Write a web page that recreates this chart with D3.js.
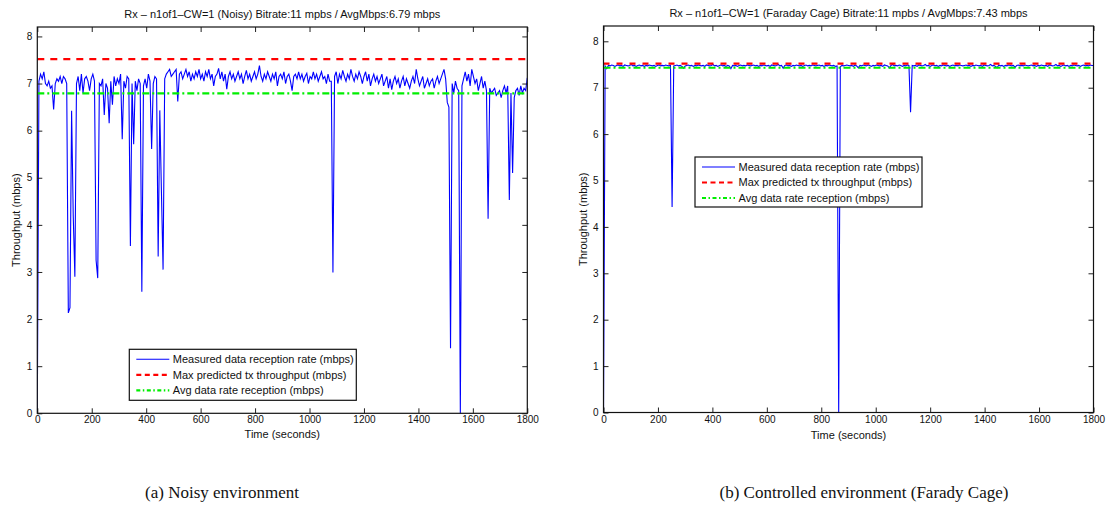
<!DOCTYPE html>
<html><head><meta charset="utf-8">
<script src="https://cdn.jsdelivr.net/npm/d3@7"></script>
<style>
body{margin:0;background:#fff}
svg{display:block}
text{font-family:"Liberation Sans",Arial,Helvetica,sans-serif;fill:#111}
.cap{font-family:"Liberation Serif","Times New Roman",serif}
</style>
</head><body>
<svg id="c" width="1111" height="512"></svg>
<script>
// ---------- DATA ----------
const sampleStep = 6; // seconds between samples
const noisyThroughput = [
  0, 7.05, 7.2, 7.1, 7.25, 7.0, 6.95, 7.05, 6.9, 6.95,
  6.45, 7.0, 7.1, 7.05, 7.15, 7.0, 7.15, 7.1, 7.0, 2.13,
  2.24, 6.42, 4.2, 2.9, 7.0, 7.15, 6.85, 7.2, 6.8, 7.1,
  7.15, 7.05, 6.85, 7.1, 7.2, 7.05, 3.25, 2.87, 7.0, 6.95,
  7.1, 6.33, 7.0, 6.9, 6.16, 7.05, 6.55, 7.15, 6.95, 7.1,
  7.0, 7.2, 5.82, 7.05, 6.9, 7.15, 7.1, 3.55, 7.0, 5.71,
  7.05, 6.85, 7.1, 7.0, 2.58, 6.95, 7.1, 6.9, 7.2, 7.05,
  5.61, 7.0, 7.15, 7.1, 3.33, 6.43, 4.7, 3.05, 7.1, 7.2,
  7.25, 7.3, 7.15, 7.2, 7.25, 7.3, 6.62, 7.2, 7.25, 7.1,
  7.2, 7.3, 7.15, 7.25, 7.05, 7.2, 7.1, 7.25, 7.15, 7.3,
  7.1, 7.2, 7.05, 7.25, 7.15, 7.3, 7.1, 7.2, 6.95, 7.15,
  7.2, 7.32, 7.1, 7.25, 7.05, 7.2, 6.88, 7.15, 7.25, 7.1,
  7.2, 7.05, 7.15, 7.25, 7.1, 7.2, 7.0, 7.15, 7.28, 7.1,
  7.2, 7.05, 7.15, 7.25, 7.1, 7.2, 7.38, 7.15, 7.05, 7.2,
  7.1, 7.25, 7.15, 7.05, 7.2, 7.1, 7.25, 6.95, 7.15, 7.2,
  7.1, 7.25, 7.0, 7.15, 7.2, 7.05, 6.85, 7.15, 7.2, 7.1,
  7.25, 7.1, 7.2, 7.05, 7.15, 7.22, 7.0, 7.15, 7.1, 7.25,
  7.1, 7.2, 7.05, 7.15, 7.25, 7.1, 7.15, 7.0, 7.2, 7.05,
  7.05, 2.99, 7.15, 7.25, 7.0, 7.2, 7.1, 7.28, 7.15, 7.05,
  7.2, 7.1, 7.3, 7.15, 7.05, 7.2, 7.1, 7.25, 7.15, 7.0,
  7.15, 7.25, 7.05, 7.2, 6.95, 7.1, 7.2, 7.05, 7.15, 7.0,
  7.1, 7.2, 6.95, 7.05, 7.15, 6.9, 7.1, 6.87, 7.05, 7.15,
  7.0, 7.1, 6.9, 7.05, 7.15, 6.95, 7.1, 7.0, 6.9, 7.05,
  7.15, 7.0, 7.3, 7.1, 6.95, 7.05, 7.15, 6.9, 7.0, 7.1,
  6.95, 7.05, 7.1, 6.9, 7.05, 7.15, 7.0, 7.1, 7.2, 7.3,
  7.1, 6.6, 6.5, 1.38, 7.0, 6.8, 7.05, 6.9, 6.85, 0.0,
  6.95, 7.1, 7.25, 7.05, 7.2, 6.95, 7.3, 7.15, 7.0, 7.1,
  6.85, 7.0, 7.15, 6.9, 7.05, 6.85, 4.13, 6.9, 6.8, 6.85,
  6.9, 6.75, 6.8, 6.85, 6.7, 6.85, 6.95, 6.8, 6.95, 4.53,
  6.8, 5.1, 6.7, 6.85, 6.9, 6.75, 6.95, 6.8, 6.9, 6.85,
  7.12
];
const cageThroughput = [
  0, 7.47, 7.41, 7.48, 7.47, 7.49, 7.48, 7.46, 7.48, 7.49,
  7.47, 7.48, 7.46, 7.49, 7.48, 7.47, 7.48, 7.5, 7.47, 7.48,
  7.46, 7.48, 7.49, 7.47, 7.48, 7.46, 7.48, 7.47, 7.49, 7.48,
  7.47, 7.48, 7.46, 7.48, 7.49, 7.47, 7.48, 7.47, 7.49, 7.48,
  7.47, 7.48, 4.43, 7.47, 7.48, 7.49, 7.47, 7.48, 7.46, 7.42,
  7.47, 7.48, 7.49, 7.47, 7.48, 7.46, 7.48, 7.47, 7.49, 7.48,
  7.47, 7.48, 7.46, 7.49, 7.48, 7.47, 7.48, 7.5, 7.47, 7.48,
  7.46, 7.48, 7.49, 7.47, 7.48, 7.46, 7.48, 7.47, 7.41, 7.48,
  7.47, 7.48, 7.46, 7.48, 7.49, 7.47, 7.48, 7.47, 7.49, 7.48,
  7.47, 7.48, 7.49, 7.47, 7.48, 7.46, 7.48, 7.47, 7.49, 7.48,
  7.47, 7.48, 7.46, 7.49, 7.48, 7.47, 7.48, 7.5, 7.47, 7.48,
  7.42, 7.48, 7.49, 7.47, 7.48, 7.46, 7.48, 7.47, 7.49, 7.48,
  7.47, 7.48, 7.46, 7.48, 7.49, 7.47, 7.48, 7.47, 7.49, 7.48,
  7.47, 7.48, 7.49, 7.47, 7.48, 7.46, 7.48, 7.47, 7.49, 7.48,
  7.47, 7.48, 7.46, 7.47, 0.0, 7.45, 7.48, 7.47, 7.48, 7.49,
  7.48, 7.47, 7.48, 7.46, 7.49, 7.47, 7.43, 7.48, 7.47, 7.49,
  7.48, 7.47, 7.49, 7.48, 7.46, 7.48, 7.47, 7.49, 7.48, 7.47,
  7.48, 7.46, 7.49, 7.48, 7.47, 7.43, 7.48, 7.5, 7.47, 7.48,
  7.47, 7.49, 7.48, 7.46, 7.48, 7.47, 7.49, 7.48, 6.47, 7.48,
  7.47, 7.48, 7.46, 7.49, 7.48, 7.47, 7.48, 7.5, 7.47, 7.48,
  7.46, 7.48, 7.49, 7.47, 7.48, 7.46, 7.48, 7.47, 7.49, 7.48,
  7.47, 7.48, 7.46, 7.48, 7.49, 7.47, 7.48, 7.47, 7.49, 7.48,
  7.47, 7.48, 7.49, 7.47, 7.48, 7.46, 7.48, 7.47, 7.49, 7.48,
  7.47, 7.48, 7.46, 7.49, 7.48, 7.47, 7.48, 7.5, 7.47, 7.48,
  7.46, 7.43, 7.49, 7.47, 7.48, 7.46, 7.48, 7.47, 7.49, 7.48,
  7.47, 7.48, 7.44, 7.48, 7.49, 7.47, 7.48, 7.47, 7.49, 7.48,
  7.47, 7.48, 7.49, 7.47, 7.48, 7.46, 7.48, 7.47, 7.49, 7.48,
  7.47, 7.48, 7.46, 7.49, 7.48, 7.47, 7.48, 7.5, 7.47, 7.48,
  7.46, 7.48, 7.49, 7.47, 7.48, 7.46, 7.48, 7.47, 7.49, 7.48,
  7.47, 7.48, 7.46, 7.48, 7.49, 7.47, 7.48, 7.47, 7.49, 7.48,
  7.48
];
const noisyMaxPredicted = 7.52;
const noisyAverage = 6.79;
const cageMaxPredicted = 7.52;
const cageAverage = 7.43;
const xTickValues = [0, 200, 400, 600, 800, 1000, 1200, 1400, 1600, 1800];
const yTickValues = [0, 1, 2, 3, 4, 5, 6, 7, 8];
const legendLabels = ["Measured data reception rate (mbps)", "Max predicted tx throughput (mbps)", "Avg data rate reception (mbps)"];
const panelTitles = ["Rx \u2013 n1of1\u2013CW=1 (Noisy) Bitrate:11 mpbs / AvgMbps:6.79 mbps",
                     "Rx \u2013 n1of1\u2013CW=1 (Faraday Cage) Bitrate:11 mpbs / AvgMbps:7.43 mbps"];
const xLabel = "Time (seconds)";
const yLabel = "Throughput (mbps)";
const captions = ["(a) Noisy environment", "(b) Controlled environment (Farady Cage)"];

// ---------- DRAW ----------
const svg = d3.select("#c");
svg.append("rect").attr("width", 1111).attr("height", 512).attr("fill", "#fff");

function drawPanel(o) {
  const x = d3.scaleLinear().domain([0, 1800]).range([o.l, o.r]);
  const y = d3.scaleLinear().domain([0, o.yMax]).range([o.b, o.t]);
  const g = svg.append("g");
  const clipId = "clip" + o.id;
  svg.append("clipPath").attr("id", clipId).append("rect")
    .attr("x", o.l).attr("y", o.t).attr("width", o.r - o.l).attr("height", o.b - o.t + 1);

  const line = d3.line().x((d, i) => x(i * sampleStep)).y(d => y(d));
  const plot = g.append("g").attr("clip-path", `url(#${clipId})`);
  plot.append("path").datum(o.series).attr("d", line)
    .attr("fill", "none").attr("stroke", "#0000ff").attr("stroke-width", 1.1).attr("stroke-linejoin", "miter");
  plot.append("line").attr("x1", x(0)).attr("x2", x(1800)).attr("y1", y(o.maxPred)).attr("y2", y(o.maxPred))
    .attr("stroke", "#ff0000").attr("stroke-width", 2.2).attr("stroke-dasharray", o.redDash);
  plot.append("line").attr("x1", x(0)).attr("x2", x(1800)).attr("y1", y(o.avg)).attr("y2", y(o.avg))
    .attr("stroke", "#00ee00").attr("stroke-width", 2.2).attr("stroke-dasharray", o.greenDash);

  // axes (MATLAB style, inward ticks on all four sides)
  const fmt = d3.format("d");
  const ax = d3.axisBottom(x).tickValues(xTickValues).tickFormat(fmt).tickSizeInner(-5).tickSizeOuter(0).tickPadding(3);
  const axTop = d3.axisTop(x).tickValues(xTickValues).tickSizeInner(-5).tickSizeOuter(0).tickFormat("");
  const ay = d3.axisLeft(y).tickValues(yTickValues).tickFormat(fmt).tickSizeInner(-5).tickSizeOuter(0).tickPadding(5);
  const ayR = d3.axisRight(y).tickValues(yTickValues).tickSizeInner(-5).tickSizeOuter(0).tickFormat("");
  const style = sel => {
    sel.select(".domain").remove();
    sel.selectAll("line").attr("stroke", "#222");
    sel.selectAll("text").attr("font-size", 10).attr("fill", "#111").attr("font-family", '"Liberation Sans",Arial,sans-serif');
  };
  g.append("g").attr("transform", `translate(0,${o.b})`).call(ax).call(style);
  g.append("g").attr("transform", `translate(0,${o.t})`).call(axTop).call(style);
  g.append("g").attr("transform", `translate(${o.l},0)`).call(ay).call(style);
  g.append("g").attr("transform", `translate(${o.r},0)`).call(ayR).call(style);
  g.append("rect").attr("x", o.l).attr("y", o.t).attr("width", o.r - o.l).attr("height", o.b - o.t)
    .attr("fill", "none").attr("stroke", "#111").attr("stroke-width", 1.2);

  // title & labels
  g.append("text").attr("x", (o.l + o.r) / 2).attr("y", o.titleY).attr("text-anchor", "middle")
    .attr("font-size", 11).text(o.title);
  g.append("text").attr("x", (o.l + o.r) / 2).attr("y", o.xLabelY).attr("text-anchor", "middle")
    .attr("font-size", 11).text(xLabel);
  g.append("text").attr("transform", `translate(${o.yLabelX},${(o.t + o.b) / 2}) rotate(-90)`)
    .attr("text-anchor", "middle").attr("font-size", 11).text(yLabel);

  // legend
  const L = o.legend;
  const lg = g.append("g");
  lg.append("rect").attr("x", L.x).attr("y", L.y).attr("width", L.w).attr("height", L.h)
    .attr("fill", "#fff").attr("stroke", "#111").attr("stroke-width", 1.2);
  const styles = [
    {c: "#0000ff", w: 1.1, dash: null},
    {c: "#ff0000", w: 2.2, dash: "5,3.5"},
    {c: "#00ee00", w: 2.2, dash: "4,2.5,1.5,2.5"}
  ];
  legendLabels.forEach((lab, k) => {
    const yy = L.y + L.row0 + k * L.dy;
    lg.append("line").attr("x1", L.x + 7).attr("x2", L.x + 40).attr("y1", yy).attr("y2", yy)
      .attr("stroke", styles[k].c).attr("stroke-width", styles[k].w)
      .attr("stroke-dasharray", styles[k].dash);
    lg.append("text").attr("x", L.x + 43.5).attr("y", yy).attr("dy", "0.36em")
      .attr("font-size", 11).text(lab);
  });

  svg.append("text").attr("class", "cap").attr("x", o.capX).attr("y", 498).attr("text-anchor", "middle")
    .attr("font-size", 17).attr("font-family", '"Liberation Serif",serif').text(o.caption);
}

drawPanel({
  id: "a", l: 37.3, r: 527.3, t: 27, b: 413.3, yMax: 8.2,
  series: noisyThroughput, maxPred: noisyMaxPredicted, avg: noisyAverage,
  title: panelTitles[0], titleY: 18, xLabelY: 437.5, yLabelX: 20,
  redDash: "7,6", greenDash: "7,3,2,3",
  legend: {x: 129.3, y: 349.3, w: 227, h: 51, row0: 10, dy: 15.5},
  capX: 222, caption: captions[0]
});
drawPanel({
  id: "b", l: 603.5, r: 1093.5, t: 26, b: 412.5, yMax: 8.33,
  series: cageThroughput, maxPred: cageMaxPredicted, avg: cageAverage,
  title: panelTitles[1], titleY: 17, xLabelY: 439, yLabelX: 587,
  redDash: "6,7", greenDash: "7,3,2,3",
  legend: {x: 695, y: 157, w: 227, h: 50, row0: 10, dy: 15.5},
  capX: 864, caption: captions[1]
});
</script>
</body></html>
